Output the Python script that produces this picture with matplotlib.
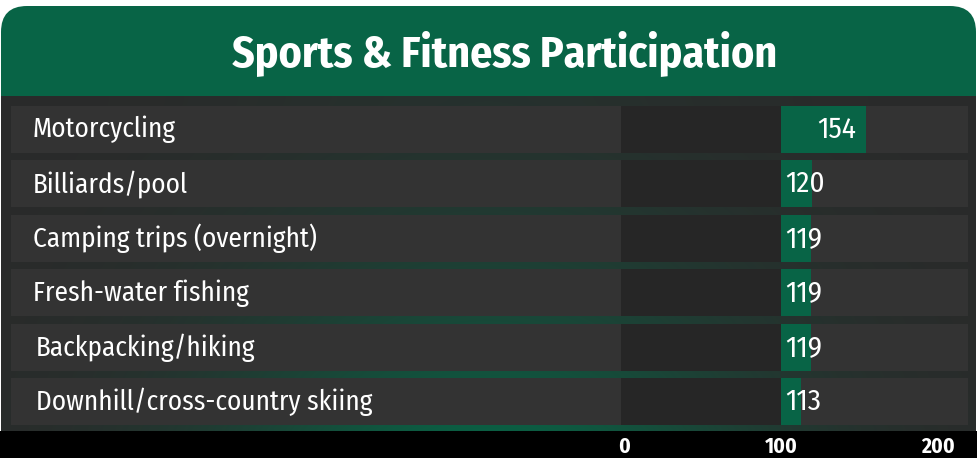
import numpy as np
import matplotlib
matplotlib.use("Agg")
import matplotlib.pyplot as plt
from matplotlib.patches import FancyBboxPatch, Rectangle
from matplotlib.transforms import blended_transform_factory, offset_copy
from matplotlib import font_manager as fm

# ---------------- data ----------------
title = "Sports & Fitness Participation"
categories = ["Motorcycling", "Billiards/pool", "Camping trips (overnight)",
              "Fresh-water fishing", "Backpacking/hiking", "Downhill/cross-country skiing"]
values = [154, 120, 119, 119, 119, 113]
baseline = 100
ticks = [0, 100, 200]
tick_labels = ["0", "100", "200"]

# ---------------- style ----------------
names = {f.name for f in fm.fontManager.ttflist}
FONT = "DejaVu Sans"
for cand in ["Fira Sans Condensed", "PT Sans Narrow", "Roboto Condensed"]:
    if cand in names:
        FONT = cand
        break
plt.rcParams["font.family"] = [FONT, "DejaVu Sans"]

GREEN = "#086446"
BG = "#2a2a2a"
ROW = "#333333"
DARK = "#262626"

W, H = 978, 458
fig = plt.figure(figsize=(W / 100, H / 100), dpi=100)
fig.patch.set_facecolor("white")

# background axes in pixel coordinates
bg = fig.add_axes([0, 0, 1, 1])
bg.set_xlim(0, W)
bg.set_ylim(H, 0)
bg.axis("off")

# header with rounded top corners
bg.add_patch(FancyBboxPatch((1 + 26, 6 + 26), 975 - 52, 120 - 52,
                            boxstyle="round,pad=26", fc=GREEN, ec="none", zorder=1))
# dark panel with green glow gradient
x = np.linspace(0, 1, 400)
y = np.linspace(0, 1, 120)
X, Y = np.meshgrid(x, y)
wx = np.exp(-((X - 0.5) / 0.28) ** 2)
sy = 0.12 + 0.78 * Y ** 1.6
a = (wx * sy)[..., None]
c_bg = np.array(matplotlib.colors.to_rgb(BG))
c_gr = np.array(matplotlib.colors.to_rgb(GREEN))
img = c_bg * (1 - a) + c_gr * a
bg.imshow(img, extent=(1, 976, 431, 96), aspect="auto", zorder=2, interpolation="bilinear")
bg.add_patch(Rectangle((0, 431), W, H - 431, fc="black", ec="none", zorder=2))
bg.text(505, 66, title, ha="center", va="baseline", color="white",
        fontsize=31.5, fontweight="bold", zorder=5)

# data axes
ax_left, ax_right = 621, 968
ax_top, ax_bot = 102.1, 429.1
ax = fig.add_axes([ax_left / W, 1 - ax_bot / H, (ax_right - ax_left) / W, (ax_bot - ax_top) / H])
ax.patch.set_alpha(0)
ax.set_zorder(3)
px_per_unit = 1.57
xmin = (ax_left - 624) / px_per_unit
xmax = (ax_right - 624) / px_per_unit
ax.set_xlim(xmin, xmax)
n = len(categories)
ypos = np.arange(n)
ax.set_ylim(n - 0.5, -0.5)
bh = 0.857

ax.barh(ypos, baseline - xmin, left=xmin, height=bh, color=DARK, zorder=1)
ax.barh(ypos, xmax - baseline, left=baseline, height=bh, color=ROW, zorder=1)
ax.barh(ypos, np.array(values) - baseline, left=baseline, height=bh, color=GREEN, zorder=2)

for i, v in enumerate(values):
    if v - baseline > 30:
        tr = offset_copy(ax.transData, fig=fig, x=-10, y=0, units="dots")
        ax.text(v, i, str(v), transform=tr, ha="right", va="center", color="white",
                fontsize=21, zorder=4)
    else:
        tr = offset_copy(ax.transData, fig=fig, x=4, y=0, units="dots")
        ax.text(baseline, i, str(v), transform=tr, ha="left", va="center", color="white",
                fontsize=21, zorder=4)

# label boxes and category labels (x in pixels, y through the data axis)
btr = blended_transform_factory(bg.transData, ax.transData)
for i, cat in enumerate(categories):
    ax.add_patch(Rectangle((11, i - bh / 2), 610, bh, transform=btr, fc=ROW, ec="none",
                           clip_on=False, zorder=1))
    ax.text(33 if i < 4 else 36, i, cat, transform=btr, ha="left", va="center", color="white",
            fontsize=19.5, clip_on=False, zorder=4)

ax.set_xticks(ticks)
ax.set_xticklabels(tick_labels, color="white", fontsize=15.5, fontweight="bold")
ax.tick_params(axis="x", length=0, pad=5)
ax.set_yticks([])
for s in ax.spines.values():
    s.set_visible(False)

fig.savefig("out.png", dpi=100, facecolor="white")
